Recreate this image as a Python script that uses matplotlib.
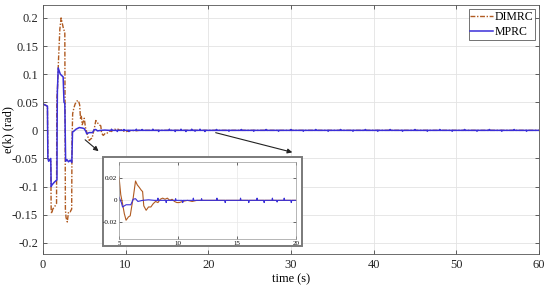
import numpy as np
import matplotlib
matplotlib.use("Agg")
import matplotlib.pyplot as plt
from matplotlib.patches import Rectangle

plt.rcParams['font.family'] = ['Liberation Serif', 'DejaVu Serif']
plt.rcParams['axes.unicode_minus'] = False

# ---- data ----
dimrc_t = [0, 0.55, 0.6, 0.95, 1.0, 1.05, 1.2, 1.45, 1.65, 1.68, 1.75, 1.9, 2.05, 2.2, 2.35, 2.5, 2.65,
           2.72, 2.8, 2.95, 3.1, 3.3, 3.48, 3.52, 3.6, 3.75, 3.9, 4.1, 4.3, 4.45, 4.55, 4.65, 4.75, 4.85,
           5.0, 5.15, 5.3, 5.45, 5.6, 5.8, 5.95, 6.1, 6.2, 6.4, 6.55, 6.7, 6.9, 7.0, 7.1, 7.3, 7.5, 7.7,
           7.9, 8.1, 8.3, 8.5, 8.7, 8.9, 9.1, 9.3, 9.5, 9.7, 9.9, 10.1, 10.4, 10.8, 11.2, 11.6, 12.0,
           13.0, 60]
dimrc_v = [0.047, 0.043, -0.05, -0.055, -0.14, -0.148, -0.14, -0.135, -0.13, 0.055, 0.07, 0.13, 0.18,
           0.2, 0.19, 0.18, 0.175, -0.14, -0.155, -0.163, -0.145, -0.145, -0.14, -0.02, 0.03, 0.04, 0.047,
           0.052, 0.053, 0.045, 0.02, 0.025, 0.01, 0.014, 0.0215, 0.005, -0.003, -0.012, -0.018, -0.015,
           -0.014, -0.004, 0.002, 0.0175, 0.014, 0.012, 0.009, 0.008, -0.005, -0.009, -0.006, -0.006,
           -0.003, -0.001, -0.002, 0.001, 0.002, 0.001, 0.002, 0.0, 0.001, -0.001, -0.002, -0.002,
           -0.001, 0.0, -0.001, 0.0, 0.0, 0.0, 0.0]

mprc_t = [0, 0.55, 0.6, 0.7, 0.95, 1.0, 1.1, 1.4, 1.7, 1.72, 1.75, 1.78, 1.85, 2.1, 2.45, 2.55, 2.65,
          2.75, 2.9, 3.1, 3.3, 3.5, 3.58, 3.7, 4.0, 4.4, 4.8, 5.0, 5.2, 5.3, 5.6, 6.0, 6.2, 6.4, 6.6,
          7.0, 7.5, 8.0, 60]
mprc_v = [0.047, 0.043, -0.05, -0.055, -0.05, -0.1, -0.097, -0.092, -0.088, 0.005, 0.07, 0.08, 0.111,
          0.1, 0.095, 0.05, 0.048, -0.055, -0.052, -0.056, -0.053, -0.057, -0.003, -0.002, 0.002,
          0.005, 0.004, 0.003, -0.002, -0.006, -0.004, -0.004, 0.001, 0.0015, -0.001, 0.0, 0.0005, 0.0,
          0.0]

# small steady-state spikes of MPRC
spike_t = [8.3, 9.0, 9.8, 10.4, 11.3, 12.0, 13.3, 14.0, 15.3, 16.0, 16.7, 17.3, 18.0, 18.4, 19.0, 19.6,
           21.0, 22.5, 24.0, 25.5, 27.0, 28.5, 30.0, 31.5, 33.0, 34.5, 36.0, 37.5, 39.0, 40.5, 42.0,
           43.5, 45.0, 46.5, 48.0, 49.5, 51.0, 52.5, 54.0, 55.5, 57.0, 58.5]
spike_v = [0.002, -0.002, 0.0015, -0.002, 0.002, 0.0015, 0.002, -0.002, 0.002, -0.002, 0.002, -0.002,
           0.002, -0.0015, 0.002, -0.002, 0.0015, -0.0015, 0.0015, -0.0015, 0.0015, -0.0015, 0.0015,
           -0.0015, 0.0015, -0.0015, 0.0015, -0.0015, 0.0015, -0.0015, 0.0015, -0.0015, 0.0015, -0.0015,
           0.0015, -0.0015, 0.0015, -0.0015, 0.0015, -0.0015, 0.0015, -0.0015]

# merge spikes into MPRC tail
mt = list(mprc_t[:-1])
mv = list(mprc_v[:-1])
for s, a in zip(spike_t, spike_v):
    mt += [s - 0.04, s, s + 0.04]
    mv += [0.0, a, 0.0]
mt.append(mprc_t[-1]); mv.append(mprc_v[-1])
order = np.argsort(mt, kind='stable')
mprc_T = np.array(mt)[order]
mprc_V = np.array(mv)[order]

c_dimrc = '#B05A20'
c_mprc = '#3A2FD8'

fig = plt.figure(figsize=(5.5, 2.94), dpi=100)
ax = fig.add_axes([0.078, 0.136, 0.902, 0.847])
ax.plot(dimrc_t, dimrc_v, linestyle=(0, (3.5, 1.2, 1, 1.2)), color=c_dimrc, lw=1.0, label='DIMRC')
ax.plot(mprc_T, mprc_V, linestyle='-', color=c_mprc, lw=1.1, label='MPRC')
ax.set_xlim(0, 60)
ax.set_ylim(-0.22, 0.223)
ax.set_xticks(np.arange(0, 61, 10))
yt = [-0.2, -0.15, -0.1, -0.05, 0, 0.05, 0.1, 0.15, 0.2]
ax.set_yticks(yt)
ax.set_yticklabels(['-0.2', '-0.15', '-0.1', '-0.05', '0', '0.05', '0.1', '0.15', '0.2'])
ax.grid(True, color='#E3E3E3', lw=0.6)
ax.set_axisbelow(True)
ax.tick_params(direction='in', top=True, right=True, length=3, width=0.5, labelsize=9, colors='#262626')
for sp in ax.spines.values():
    sp.set_color('#555555'); sp.set_linewidth(0.6)
ax.set_xlabel('time (s)', fontsize=9, labelpad=2)
ax.set_ylabel('e(k) (rad)', fontsize=9)
ax.yaxis.set_label_coords(-0.058, 0.5)
leg = ax.legend(loc='upper right', fontsize=8.5, frameon=True, fancybox=False, edgecolor='#333333',
                borderpad=0.15, handlelength=1.9, handletextpad=0.15, labelspacing=0.25,
                borderaxespad=0.35)
leg.get_frame().set_linewidth(0.6)

# inset frame
rect = Rectangle((102.7 / 550, 1 - 246 / 294), 199 / 550, 89.3 / 294, transform=fig.transFigure,
                 facecolor='white', edgecolor='#7A7A7A', lw=1.4, zorder=3)
fig.patches.append(rect)

axi = fig.add_axes([119 / 550, 1 - 239 / 294, 177 / 550, 77.3 / 294], zorder=5)
axi.plot(dimrc_t, dimrc_v, linestyle='-', color=c_dimrc, lw=0.8)
axi.plot(mprc_T, mprc_V, linestyle='-', color=c_mprc, lw=0.8)
axi.set_xlim(5, 20)
axi.set_ylim(-0.035, 0.035)
axi.set_xticks([5, 10, 15, 20])
axi.set_yticks([-0.02, 0, 0.02])
axi.set_yticklabels(['-0.02', '0', '0.02'])
axi.grid(True, color='#E8E8E8', lw=0.5)
axi.tick_params(direction='in', top=True, right=True, length=2, width=0.4, labelsize=5, pad=1.5)
for sp in axi.spines.values():
    sp.set_color('#999999'); sp.set_linewidth(0.5)

# arrows
ap = dict(arrowstyle='-|>', color='#222222', lw=0.8, mutation_scale=7)
ax.annotate('', xy=(100.7 / 550, 1 - 153 / 294), xytext=(83 / 550, 1 - 138 / 294),
            xycoords='figure fraction', textcoords='figure fraction', arrowprops=ap)
ax.annotate('', xy=(295 / 550, 1 - 153 / 294), xytext=(213 / 550, 1 - 132 / 294),
            xycoords='figure fraction', textcoords='figure fraction', arrowprops=ap)

fig.savefig('out.png', dpi=100)
